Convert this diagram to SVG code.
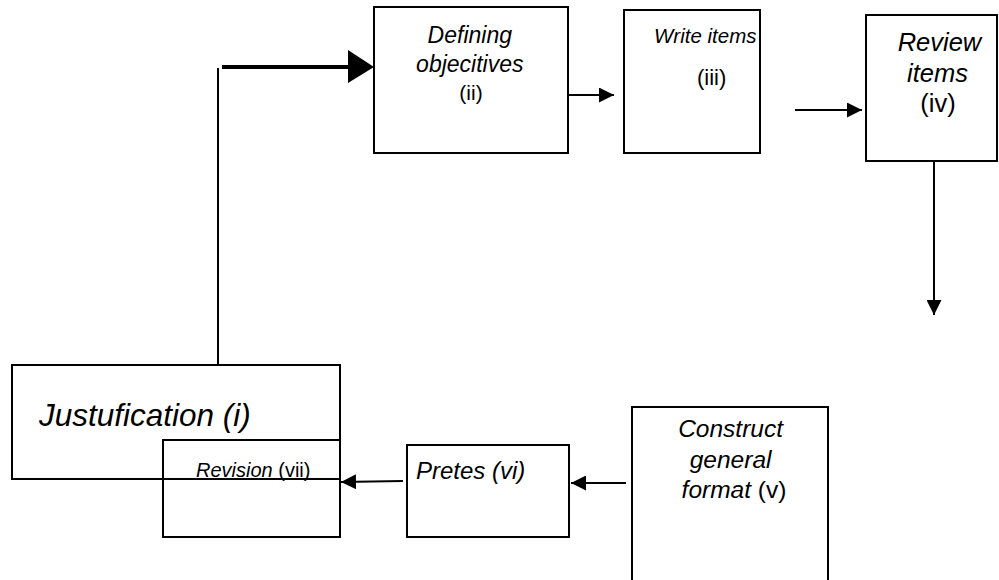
<svg xmlns="http://www.w3.org/2000/svg" width="999" height="580" viewBox="0 0 999 580">
<defs>
<style>
.box{fill:none;stroke:#000;stroke-width:2}
.ln{fill:none;stroke:#000;stroke-width:2}
.t{font-family:"Liberation Sans",Arial,sans-serif;fill:#000}
.i{font-style:italic}
</style>
<marker id="ah" viewBox="0 0 10 10" refX="10" refY="5" markerWidth="15" markerHeight="15" markerUnits="userSpaceOnUse" orient="auto">
<path d="M0,0 L10,5 L0,10 Z" fill="#000"/>
</marker>
</defs>
<rect width="999" height="580" fill="#fff"/>
<g id="node-justification">
<rect class="box" x="12" y="365" width="328" height="114"/>
<text class="t i" x="39" y="426" font-size="31.5">Justufication (i)</text>
</g>
<g id="node-revision">
<rect class="box" x="163" y="440" width="177" height="97"/>
<text class="t" x="196" y="477" font-size="20"><tspan class="i">Revision</tspan> (vii)</text>
</g>
<g id="node-pretes">
<rect class="box" x="407" y="445" width="162" height="92"/>
<text class="t i" x="416" y="479" font-size="24">Pretes (vi)</text>
</g>
<g id="node-construct">
<rect class="box" x="632" y="407" width="196" height="200"/>
<text class="t" text-anchor="middle" font-size="24.5">
<tspan class="i" x="734" y="437">Construct</tspan>
<tspan class="i" x="734" y="468">general</tspan>
<tspan x="734" y="498"><tspan class="i">format</tspan> (v)</tspan>
</text>
</g>
<g id="node-defining">
<rect class="box" x="374" y="7" width="194" height="146"/>
<text class="t" text-anchor="middle" font-size="23">
<tspan class="i" x="473" y="43">Defining</tspan>
<tspan class="i" x="473" y="72">objecitives</tspan>
<tspan x="471" y="100" font-size="21">(ii)</tspan>
</text>
</g>
<g id="node-write">
<rect class="box" x="624" y="10" width="136" height="143"/>
<text class="t" font-size="20.5">
<tspan class="i" x="654" y="43">Write items</tspan>
<tspan x="697" y="85" font-size="22">(iii)</tspan>
</text>
</g>
<g id="node-review">
<rect class="box" x="866" y="15" width="131" height="146"/>
<text class="t" text-anchor="middle" font-size="25.5">
<tspan class="i" x="943" y="51">Review</tspan>
<tspan class="i" x="941" y="82">items</tspan>
<tspan x="938" y="112">(iv)</tspan>
</text>
</g>
<g id="connectors">
<polyline class="ln" points="218,365 218,68"/>
<line x1="222" y1="67" x2="350" y2="67" stroke="#000" stroke-width="4"/>
<path d="M348,50 L374,67 L348,83 Z" fill="#000"/>
<line class="ln" x1="568" y1="95" x2="614" y2="95" marker-end="url(#ah)"/>
<line class="ln" x1="795" y1="110" x2="862" y2="110" marker-end="url(#ah)"/>
<line class="ln" x1="934" y1="161" x2="934" y2="315" marker-end="url(#ah)"/>
<line class="ln" x1="626" y1="483" x2="571" y2="483" marker-end="url(#ah)"/>
<line class="ln" x1="403" y1="481" x2="341" y2="482" marker-end="url(#ah)"/>
</g>
</svg>
